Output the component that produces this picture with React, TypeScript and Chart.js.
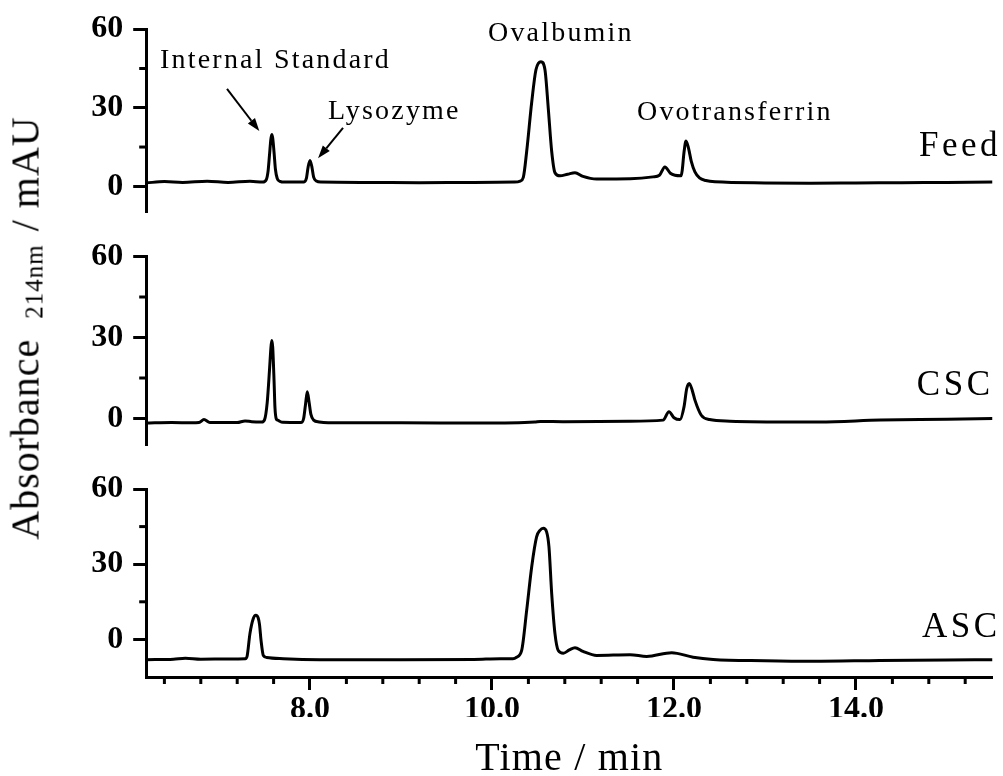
import React, { useEffect, useRef } from "react";
import { Chart, registerables } from "chart.js";

Chart.register(...registerables);

// ---------- data ----------
const xMajorTicks = [8, 10, 12, 14];
const xMinorTicks = [6.4, 6.8, 7.2, 7.6, 8.4, 8.8, 9.2, 9.6, 10.4, 10.8, 11.2, 11.6, 12.4, 12.8, 13.2, 13.6, 14.4, 14.8, 15.2];
const yMajorTicks = [0, 30, 60];
const yMinorTicks = [15, 45];

const feedTime = [6.2, 6.4, 6.6, 6.87, 7.1, 7.34, 7.48, 7.52, 7.54, 7.555, 7.57, 7.58, 7.59, 7.605, 7.62, 7.64, 7.67, 7.72,
  7.93, 7.96, 7.98, 8.0, 8.02, 8.04, 8.07, 8.12, 8.6, 9.2, 9.8, 10.25, 10.31, 10.344, 10.381, 10.436, 10.483, 10.538,
  10.582, 10.619, 10.656, 10.692, 10.747, 10.83, 10.912, 11.0, 11.15, 11.52, 11.77, 11.84, 11.9, 11.96, 12.01, 12.077,
  12.09, 12.11, 12.132, 12.16, 12.19, 12.23, 12.28, 12.35, 12.45, 13.0, 13.5, 14.0, 14.5, 15.0, 15.5];
const feedAbs = [1.3, 1.8, 1.5, 1.9, 1.5, 1.9, 1.6, 2.6, 6, 12, 18, 19.8, 18.5, 13, 6.5, 3, 1.9, 1.6,
  1.6, 3, 7.5, 9.9, 7.5, 3.5, 2, 1.6, 1.5, 1.4, 1.5, 1.6, 2.0, 3.4, 13.3, 32, 44.5, 47.6,
  44.5, 29.5, 13.3, 5.2, 4.0, 4.6, 5.2, 3.8, 2.8, 2.9, 3.6, 4.2, 7.4, 5.0, 4.2, 4.0,
  6, 13, 17.3, 14.5, 9.5, 5.5, 3.2, 2.2, 1.7, 1.3, 1.2, 1.3, 1.4, 1.5, 1.6];

const cscTime = [6.2, 6.48, 6.7, 6.78, 6.835, 6.9, 7.2, 7.286, 7.36, 7.47, 7.5, 7.53, 7.555, 7.57, 7.58, 7.59, 7.605, 7.615,
  7.63, 7.645, 7.66, 7.7, 7.9, 7.93, 7.95, 7.97, 7.99, 8.01, 8.04, 8.1, 8.2, 9.0, 9.87, 10.47, 10.53, 10.8, 11.5, 11.88,
  11.945, 12.0, 12.066, 12.11, 12.14, 12.168, 12.2, 12.23, 12.3, 12.39, 12.615, 13.35, 13.6, 14.27, 15.0, 15.5];
const cscAbs = [-1.7, -1.5, -1.6, -1.5, -0.4, -1.5, -1.5, -0.9, -1.2, -1.3, -0.5, 6, 18, 26, 28.9, 26.5, 14, 4,
  -0.2, -0.6, -0.9, -1.4, -1.5, 0, 5, 9.9, 6, 1.5, -0.6, -1.3, -1.6, -1.6, -1.7, -1.3, -1.1, -1.2, -1.0, -0.6,
  2.5, 0.3, -0.4, 4.3, 11.1, 13.0, 10.5, 6.8, 1.2, -0.4, -1.0, -1.3, -1.3, -0.6, -0.3, 0];

const ascTime = [6.2, 6.5, 6.63, 6.8, 7.1, 7.29, 7.31, 7.34, 7.377, 7.405, 7.43, 7.445, 7.462, 7.487, 7.524, 7.707, 8.11,
  9.0, 9.8, 10.09, 10.23, 10.27, 10.326, 10.381, 10.436, 10.49, 10.527, 10.564, 10.6, 10.626, 10.656, 10.692, 10.728,
  10.784, 10.85, 10.912, 11.0, 11.15, 11.517, 11.7, 11.975, 12.21, 12.43, 13.0, 13.53, 14.26, 15.0, 15.5];
const ascAbs = [-8.1, -7.9, -7.5, -7.9, -7.8, -7.7, -6.5, 2.3, 8.3, 9.6, 8.6, 6.0, -0.4, -6.4, -7.2, -7.7, -8.1,
  -8.1, -8.0, -7.7, -7.7, -7.1, -4.4, 11.6, 28.9, 40.9, 43.5, 44.3, 42.9, 36.9, 18.3, 2.3, -4.4,
  -5.5, -4.2, -3.3, -4.8, -6.4, -6.1, -6.8, -5.3, -7.1, -8.0, -8.5, -8.7, -8.4, -8.2, -8.1];

const sampleNames = ["Feed", "CSC", "ASC"];
const peakNames = ["Internal Standard", "Lysozyme", "Ovalbumin", "Ovotransferrin"];
const xTitle = "Time / min";

// ---------- layout ----------
const W = 1003;
const H = 776;
const FONT = "'Liberation Serif', 'Times New Roman', serif";
const PLOT_LEFT = 146.2;
const PLOT_RIGHT = 992.5;
const X_AXIS_H = 40;

type Note = { text: string; t: number; v: number };
type Arrow = { t0: number; v0: number; t1: number; v1: number };
type Panel = {
  name: string; time: number[]; abs: number[]; yMin: number; yMax: number;
  top: number; bottom: number; showX: boolean; nameV: number; nameDx: number;
  notes: Note[]; arrows: Arrow[];
};

const panels: Panel[] = [
  {
    name: sampleNames[0], time: feedTime, abs: feedAbs, yMin: -10, yMax: 60, top: 25, bottom: 212.5,
    showX: false, nameV: 11.5, nameDx: 8.5,
    notes: [
      { text: peakNames[0], t: 6.352, v: 45.35 },
      { text: peakNames[1], t: 8.198, v: 25.8 },
      { text: peakNames[2], t: 9.956, v: 55.5 },
      { text: peakNames[3], t: 11.593, v: 25.3 },
    ],
    arrows: [
      { t0: 7.088, v0: 37.2, t1: 7.443, v1: 21.1 },
      { t0: 8.363, v0: 22.3, t1: 8.088, v1: 10.7 },
    ],
  },
  {
    name: sampleNames[1], time: cscTime, abs: cscAbs, yMin: -10, yMax: 60, top: 256.5, bottom: 445.5,
    showX: false, nameV: 8.6, nameDx: 1, notes: [], arrows: [],
  },
  {
    name: sampleNames[2], time: ascTime, abs: ascAbs, yMin: -15, yMax: 60, top: 489, bottom: 677,
    showX: true, nameV: 1.0, nameDx: 8, notes: [], arrows: [],
  },
];

function makeDecor(p: Panel) {
  return {
    id: "decor",
    afterDraw(chart: any) {
      const ctx = chart.ctx as CanvasRenderingContext2D;
      const xs = chart.scales.x;
      const ys = chart.scales.y;
      const area = chart.chartArea;
      ctx.save();
      ctx.strokeStyle = "#000";
      ctx.fillStyle = "#000";
      ctx.lineWidth = 3;
      for (const v of yMinorTicks) {
        const py = ys.getPixelForValue(v);
        ctx.beginPath();
        ctx.moveTo(area.left - 7, py);
        ctx.lineTo(area.left, py);
        ctx.stroke();
      }
      if (p.showX) {
        for (const t of xMinorTicks) {
          const px = xs.getPixelForValue(t);
          ctx.beginPath();
          ctx.moveTo(px, area.bottom);
          ctx.lineTo(px, area.bottom + 7);
          ctx.stroke();
        }
      }
      // sample name
      ctx.textBaseline = "alphabetic";
      ctx.textAlign = "right";
      ctx.font = `35px ${FONT}`;
      (ctx as any).letterSpacing = "3.5px";
      ctx.fillText(p.name, area.right + p.nameDx, ys.getPixelForValue(p.nameV));
      // peak names
      ctx.textAlign = "left";
      ctx.font = `28px ${FONT}`;
      (ctx as any).letterSpacing = "2.2px";
      for (const n of p.notes) {
        ctx.fillText(n.text, xs.getPixelForValue(n.t), ys.getPixelForValue(n.v));
      }
      (ctx as any).letterSpacing = "0px";
      // arrows
      ctx.lineWidth = 2;
      for (const a of p.arrows) {
        const x0 = xs.getPixelForValue(a.t0), y0 = ys.getPixelForValue(a.v0);
        const x1 = xs.getPixelForValue(a.t1), y1 = ys.getPixelForValue(a.v1);
        const ang = Math.atan2(y1 - y0, x1 - x0);
        const hl = 13, hw = 4.5;
        const bx = x1 - hl * Math.cos(ang), by = y1 - hl * Math.sin(ang);
        ctx.beginPath();
        ctx.moveTo(x0, y0);
        ctx.lineTo(bx, by);
        ctx.stroke();
        ctx.beginPath();
        ctx.moveTo(x1, y1);
        ctx.lineTo(bx + hw * Math.sin(ang), by - hw * Math.cos(ang));
        ctx.lineTo(bx - hw * Math.sin(ang), by + hw * Math.cos(ang));
        ctx.closePath();
        ctx.fill();
      }
      ctx.restore();
    },
  };
}

function PanelChart({ p }: { p: Panel }) {
  const ref = useRef<HTMLCanvasElement | null>(null);
  useEffect(() => {
    if (!ref.current) return;
    const tickFont = { family: FONT, size: 32, weight: "bold" as const };
    const grid = {
      display: true, drawOnChartArea: false, drawTicks: true, tickLength: 13, tickWidth: 3, tickColor: "#000",
    };
    const border = { display: true, width: 3, color: "#000" };
    const chart = new Chart(ref.current, {
      type: "line",
      data: {
        datasets: [
          {
            data: p.time.map((t, i) => ({ x: t, y: p.abs[i] })),
            borderColor: "#000",
            borderWidth: 3,
            pointRadius: 0,
            fill: false,
            cubicInterpolationMode: "monotone",
          },
        ],
      },
      options: {
        responsive: false,
        animation: false,
        devicePixelRatio: 1,
        events: [],
        layout: {
          padding: {
            left: 0,
            right: W - PLOT_RIGHT,
            top: p.top,
            bottom: H - p.bottom - (p.showX ? X_AXIS_H : 0),
          },
        },
        plugins: { legend: { display: false }, tooltip: { enabled: false } },
        scales: {
          x: {
            type: "linear",
            min: 6.2,
            max: 15.5,
            display: p.showX,
            position: "bottom",
            afterBuildTicks: (s: any) => { s.ticks = xMajorTicks.map((v) => ({ value: v })); },
            afterFit: (s: any) => { s.height = p.showX ? X_AXIS_H : 0; },
            ticks: {
              callback: (v: any) => Number(v).toFixed(1),
              font: tickFont, color: "#000", padding: 1, maxRotation: 0, autoSkip: false,
            },
            grid, border,
          },
          y: {
            type: "linear",
            min: p.yMin,
            max: p.yMax,
            position: "left",
            afterBuildTicks: (s: any) => { s.ticks = yMajorTicks.map((v) => ({ value: v })); },
            afterFit: (s: any) => { s.width = PLOT_LEFT; },
            ticks: {
              callback: (v: any) => String(v),
              font: tickFont, color: "#000", padding: 10, autoSkip: false,
            },
            grid, border,
          },
        },
      } as any,
      plugins: [makeDecor(p)],
    });
    return () => chart.destroy();
  }, [p]);
  return (
    <canvas ref={ref} width={W} height={H} style={{ position: "absolute", left: 0, top: 0 }} />
  );
}

export default function App() {
  return (
    <div style={{ position: "absolute", left: 0, top: 0, width: W, height: H, overflow: "hidden", background: "#fff" }}>
      {panels.map((p) => (
        <PanelChart key={p.name} p={p} />
      ))}
      <div
        style={{
          position: "absolute", left: PLOT_LEFT, width: PLOT_RIGHT - PLOT_LEFT, top: 736.5,
          textAlign: "center", fontFamily: FONT, fontSize: 40, lineHeight: "40px",
          letterSpacing: "1.2px", whiteSpace: "nowrap", color: "#000",
        }}
      >
        {xTitle}
      </div>
      <div
        style={{
          position: "absolute", left: 28, top: 328, transform: "translate(-50%, -50%) rotate(-90deg)",
          fontFamily: FONT, fontSize: 40, lineHeight: "40px", letterSpacing: "1px",
          whiteSpace: "nowrap", color: "#000",
        }}
      >
        Absorbance
        <span style={{ fontSize: 25, position: "relative", top: 4, marginLeft: 20, marginRight: 13 }}>214nm</span>
        / mAU
      </div>
    </div>
  );
}
